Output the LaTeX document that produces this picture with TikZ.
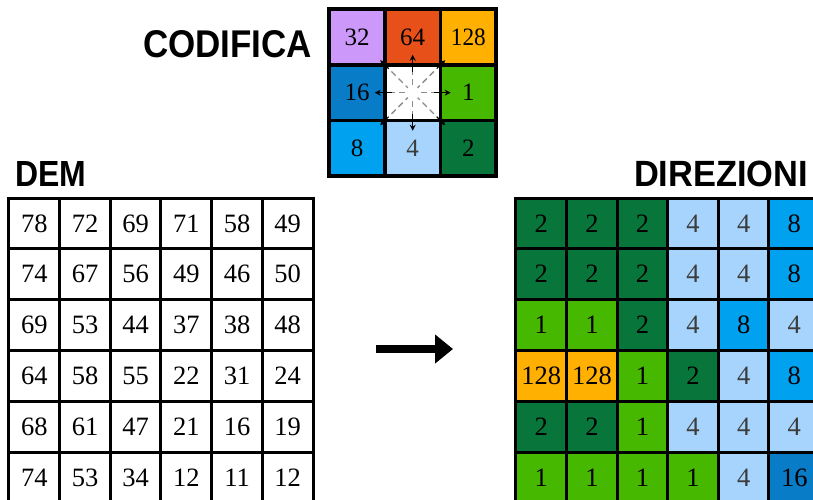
\documentclass[tikz,border=0pt]{standalone}
\usepackage{graphicx}
\usepackage{fontspec}
\setmainfont{Liberation Serif}
\newfontfamily\lblfont{Liberation Sans}
\usetikzlibrary{arrows.meta}
\definecolor{dir1}{RGB}{70,184,0}
\definecolor{dir2}{RGB}{8,118,58}
\definecolor{dir4}{RGB}{166,212,252}
\definecolor{dir8}{RGB}{0,162,240}
\definecolor{dir16}{RGB}{8,124,198}
\definecolor{dir32}{RGB}{204,153,250}
\definecolor{dir64}{RGB}{232,80,26}
\definecolor{dir128}{RGB}{255,176,0}
\definecolor{txt1}{RGB}{0,0,0}
\definecolor{txt2}{RGB}{0,0,0}
\definecolor{txt4}{RGB}{60,60,60}
\definecolor{txt8}{RGB}{0,0,0}
\definecolor{txt16}{RGB}{0,0,0}
\definecolor{txt32}{RGB}{0,0,0}
\definecolor{txt64}{RGB}{0,0,0}
\definecolor{txt128}{RGB}{0,0,0}
\tikzset{
  gridcell/.style={draw=black, line width=3pt, minimum width=50.7pt, minimum height=50.8pt,
    inner sep=0pt, outer sep=0pt, font=\fontsize{26.5pt}{28pt}\selectfont},
  demcell/.style={gridcell, fill=white},
  codcell/.style={draw=black, line width=3.5pt, minimum width=55.7pt, minimum height=55.7pt,
    inner sep=0pt, outer sep=0pt, font=\fontsize{25pt}{27pt}\selectfont},
  title/.style={inner sep=0pt, outer sep=0pt, anchor=base west},
  greyray/.style={draw=black!45, line width=1.3pt, dash pattern=on 6pt off 4pt},
  smallarrow/.style={draw=black, line width=1.1pt, -{Stealth[length=6pt,width=6pt]}},
  bigarrow/.style={draw=black, line width=8pt, -{Triangle[length=18pt,width=28pt]}}
}
\begin{document}
\begin{tikzpicture}[x=1pt,y=-1pt]
\useasboundingbox (0,0) rectangle (813,499);
\clip (0,0) rectangle (813,499);

% titles
\node[title] (tcod) at (143,57) {\resizebox{169pt}{27pt}{\lblfont\bfseries CODIFICA}};
\node[title] (tdem) at (15,186) {\resizebox{71pt}{25pt}{\lblfont\bfseries DEM}};
\node[title] (tdir) at (634,186) {\resizebox{174pt}{25.5pt}{\lblfont\bfseries DIREZIONI}};

% DEM grid
\foreach \row [count=\r from 0] in {{78,72,69,71,58,49},{74,67,56,49,46,50},{69,53,44,37,38,48},{64,58,55,22,31,24},{68,61,47,21,16,19},{74,53,34,12,11,12}}{
  \foreach \v [count=\c from 0] in \row {
    \node[demcell] (dem-\r-\c) at ({9+50.67*(\c+0.5)},{198+50.8*(\r+0.5)}) {\v};
  }
}

% DIREZIONI grid
\foreach \row [count=\r from 0] in {{2,2,2,4,4,8},{2,2,2,4,4,8},{1,1,2,4,8,4},{128,128,1,2,4,8},{2,2,1,4,4,4},{1,1,1,1,4,16}}{
  \foreach \v [count=\c from 0] in \row {
    \node[gridcell, fill=dir\v, text=txt\v] (dir-\r-\c) at ({516+50.6*(\c+0.5)},{198+50.8*(\r+0.5)}) {\v};
  }
}

% CODIFICA grid
\node[codcell, fill=dir32] (cod-0-0) at (357,37) {32};
\node[codcell, fill=dir64] (cod-0-1) at (412.7,37) {64};
\node[codcell, fill=dir128] (cod-0-2) at (468.4,37) {\scalebox{0.93}[1]{128}};
\node[codcell, fill=dir16] (cod-1-0) at (357,92.7) {16};
\node[codcell, fill=white] (cod-1-1) at (412.7,92.7) {};
\node[codcell, fill=dir1] (cod-1-2) at (468.4,92.7) {1};
\node[codcell, fill=dir8] (cod-2-0) at (357,148.4) {8};
\node[codcell, fill=dir4, text=txt4] (cod-2-1) at (412.7,148.4) {4};
\node[codcell, fill=dir2] (cod-2-2) at (468.4,148.4) {2};
\draw[line width=4pt] (cod-0-0.north west) rectangle (cod-2-2.south east);

% rays and arrows of the centre cell
\foreach \a in {0,90,180,270}{
  \draw[greyray] ([shift={(\a:24)}]cod-1-1.center) -- ([shift={(\a:5)}]cod-1-1.center);
  \draw[smallarrow] ([shift={(\a:21)}]cod-1-1.center) -- ([shift={(\a:38)}]cod-1-1.center);
}
\foreach \a in {45,135,225,315}{
  \draw[greyray] ([shift={(\a:30)}]cod-1-1.center) -- ([shift={(\a:7)}]cod-1-1.center);
  \draw[smallarrow] ([shift={(\a:34)}]cod-1-1.center) -- ([shift={(\a:46)}]cod-1-1.center);
}

% main arrow
\coordinate (arrS) at (376,349);
\coordinate (arrE) at (453,349);
\draw[bigarrow] (arrS) -- (arrE);
\end{tikzpicture}
\end{document}
